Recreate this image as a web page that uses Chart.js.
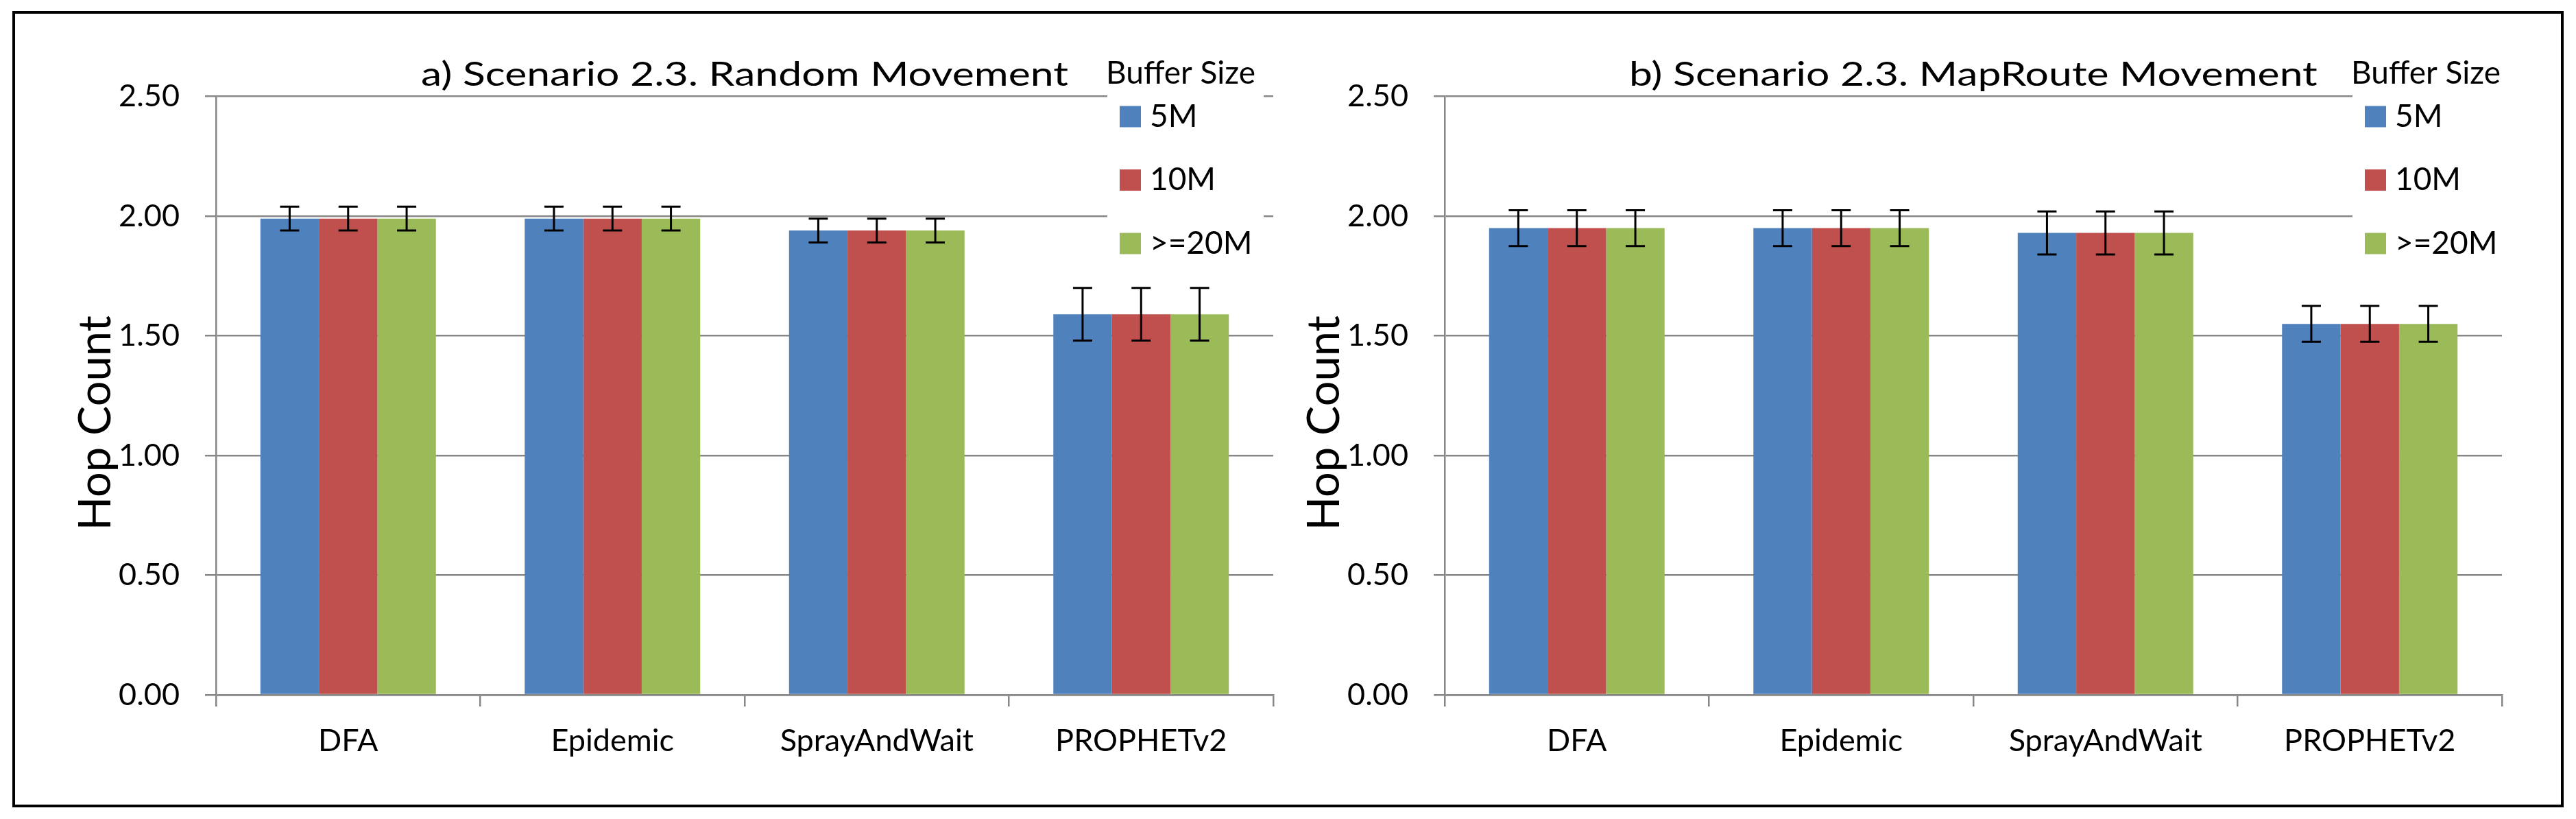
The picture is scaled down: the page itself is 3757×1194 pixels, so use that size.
<!DOCTYPE html>
<html><head><meta charset="utf-8">
<script src="https://cdn.jsdelivr.net/npm/chart.js@4.4.1/dist/chart.umd.min.js"></script>
<style>
html,body{margin:0;padding:0;background:#fff;}
body{width:3757px;height:1194px;position:relative;overflow:hidden;}
#frame{position:absolute;left:18px;top:16px;width:3721px;height:1161px;border:4px solid #000;box-sizing:border-box;}
canvas{position:absolute;top:0;}
#c1{left:0;}
#c2{left:1792px;}
</style></head><body>
<div id="frame"></div>
<canvas id="c1" width="1880" height="1194"></canvas>
<canvas id="c2" width="1880" height="1194"></canvas>
<script>
// ---- data ----
const categories = ['DFA', 'Epidemic', 'SprayAndWait', 'PROPHETv2'];
const bufferSizes = ['5M', '10M', '>=20M'];
const seriesColors = ['#4F81BD', '#C0504D', '#9BBB59'];
const yTicks = [0, 0.5, 1, 1.5, 2, 2.5];
const yTickLabels = ['0.00', '0.50', '1.00', '1.50', '2.00', '2.50'];

// a) Random Movement
const randomHop5M  = [1.99, 1.99, 1.94, 1.59];
const randomHop10M = [1.99, 1.99, 1.94, 1.59];
const randomHop20M = [1.99, 1.99, 1.94, 1.59];
const randomErr    = [0.05, 0.05, 0.05, 0.11];

// b) MapRoute Movement
const mapHop5M  = [1.95, 1.95, 1.93, 1.55];
const mapHop10M = [1.95, 1.95, 1.93, 1.55];
const mapHop20M = [1.95, 1.95, 1.93, 1.55];
const mapErr    = [0.075, 0.075, 0.09, 0.075];

const titleA = 'a) Scenario 2.3. Random Movement';
const titleB = 'b) Scenario 2.3. MapRoute Movement';
const yAxisTitle = 'Hop Count';
const legendTitle = 'Buffer Size';

// ---- plugins ----
const errorBarsPlugin = {
  id: 'errorBars',
  afterDatasetsDraw(chart, args, opts) {
    const ctx = chart.ctx, ys = chart.scales.y;
    chart.data.datasets.forEach((ds, i) => {
      const meta = chart.getDatasetMeta(i);
      meta.data.forEach((bar, j) => {
        const v = ds.data[j], e = ds.errors[j];
        const yt = ys.getPixelForValue(v + e), yb = ys.getPixelForValue(v - e);
        ctx.save();
        ctx.strokeStyle = opts.color; ctx.lineWidth = opts.lineWidth;
        ctx.beginPath();
        ctx.moveTo(bar.x, yt); ctx.lineTo(bar.x, yb);
        ctx.moveTo(bar.x - opts.capHalf, yt); ctx.lineTo(bar.x + opts.capHalf, yt);
        ctx.moveTo(bar.x - opts.capHalf, yb); ctx.lineTo(bar.x + opts.capHalf, yb);
        ctx.stroke();
        ctx.restore();
      });
    });
  }
};

const bufferLegendPlugin = {
  id: 'bufferLegend',
  afterDraw(chart, args, o) {
    const ctx = chart.ctx;
    ctx.save();
    ctx.fillStyle = '#fff';
    ctx.fillRect(o.x + 2, o.top, o.width, o.height);
    ctx.fillStyle = '#000';
    ctx.textAlign = 'left';
    ctx.textBaseline = 'alphabetic';
    ctx.font = o.fontSize + 'px Lato';
    ctx.fillText(o.title, o.x, o.titleBaseline);
    chart.data.datasets.forEach((ds, i) => {
      const cy = o.firstY + i * o.rowGap;
      ctx.fillStyle = ds.backgroundColor;
      ctx.fillRect(o.x + o.swatchOffset, cy - o.swatch / 2, o.swatch, o.swatch);
      ctx.fillStyle = '#000';
      ctx.textBaseline = 'middle';
      ctx.fillText(ds.label, o.x + o.swatchOffset + o.swatch + o.textGap, cy);
    });
    ctx.restore();
  }
};

const patchPlugin = {
  id: 'patches',
  afterLayout(chart, args, o) {
    const tb = chart.titleBlock;
    if (tb && !tb._stretched) {
      const orig = tb.draw;
      tb.draw = function () {
        const ctx = this.ctx, cx = (this.left + this.right) / 2;
        ctx.save(); ctx.translate(cx, 0); ctx.scale(o.titleScaleX, 1); ctx.translate(-cx, 0);
        orig.apply(this, arguments);
        ctx.restore();
      };
      tb._stretched = true;
    }
    const ys = chart.scales.y;
    if (ys && !ys._shifted) {
      const origT = ys.drawTitle;
      ys.drawTitle = function () {
        this.ctx.save(); this.ctx.translate(0, o.axisTitleDy);
        origT.apply(this, arguments);
        this.ctx.restore();
      };
      ys._shifted = true;
    }
  }
};

function makeChart(id, title, series, errs, legendX) {
  const FONT = 'Lato';
  return new Chart(document.getElementById(id), {
    type: 'bar',
    data: {
      labels: categories,
      datasets: bufferSizes.map((b, i) => ({
        label: b, data: series[i], errors: errs,
        backgroundColor: seriesColors[i], borderWidth: 0,
        barPercentage: 1.0, categoryPercentage: 0.664
      }))
    },
    options: {
      responsive: false, animation: false, devicePixelRatio: 1,
      layout: { padding: { left: 0, right: 23, top: 0, bottom: 0 } },
      plugins: {
        legend: { display: false },
        tooltip: { enabled: false },
        title: {
          display: true, text: title, fullSize: false, color: '#000',
          font: { family: FONT, size: 48, weight: 'normal', lineHeight: 1.2 },
          padding: { top: 81, bottom: 2.1 }
        },
        errorBars: { color: '#000', lineWidth: 3, capHalf: 14 },
        bufferLegend: {
          x: legendX, top: 70, width: 228, height: 330, title: legendTitle,
          fontSize: 46, titleBaseline: 122, firstY: 170, rowGap: 92.5,
          swatch: 31, swatchOffset: 20, textGap: 13
        },
        patches: { titleScaleX: 1.265, axisTitleDy: 40 }
      },
      scales: {
        x: {
          grid: { display: true, drawOnChartArea: false, drawTicks: true, tickLength: 17,
                  color: '#878787', lineWidth: 2.5, offset: true },
          border: { display: true, color: '#878787', width: 2.5 },
          ticks: { color: '#000', font: { family: FONT, size: 45 }, padding: 23,
                   maxRotation: 0, autoSkip: false },
          afterFit(s) { s.height = 181; }
        },
        y: {
          min: 0, max: 2.5,
          afterBuildTicks(s) { s.ticks = yTicks.map(v => ({ value: v })); },
          ticks: { color: '#000', font: { family: FONT, size: 45 }, padding: 37,
                   callback: (v, idx) => yTickLabels[idx] },
          grid: { color: '#878787', lineWidth: 2.5, tickLength: 16, drawTicks: true },
          border: { display: true, color: '#878787', width: 2.5 },
          title: { display: true, text: yAxisTitle, color: '#000',
                   font: { family: FONT, size: 65, weight: 'normal', lineHeight: 1.2 },
                   padding: { top: 101, bottom: 0 } },
          afterFit(s) { s.width = 315; }
        }
      }
    },
    plugins: [errorBarsPlugin, bufferLegendPlugin, patchPlugin]
  });
}

makeChart('c1', titleA, [randomHop5M, randomHop10M, randomHop20M], randomErr, 1613);
makeChart('c2', titleB, [mapHop5M, mapHop10M, mapHop20M], mapErr, 1637);
</script>
</body></html>
